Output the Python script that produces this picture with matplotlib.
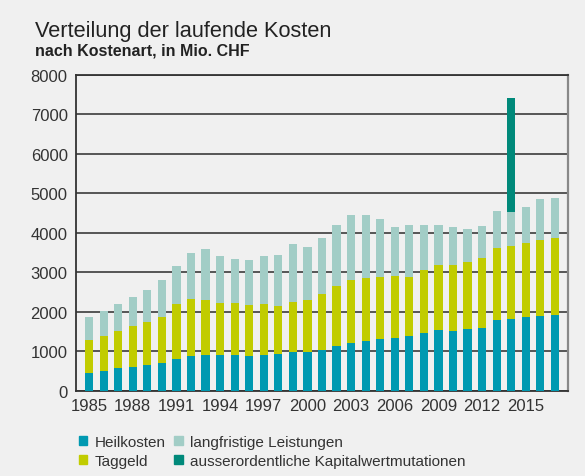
import numpy as np
from matplotlib import pyplot as plt
from matplotlib.patches import Patch

years = list(range(1985, 2018))

# obere Kanten der gestapelten Balken (kumuliert), in Mio. CHF
heilkosten_top = [456, 515, 582, 616, 667, 717, 819, 886, 911, 911, 915, 884, 917, 943, 993,
                  993, 1035, 1136, 1212, 1263, 1313, 1338, 1392, 1471, 1546, 1521, 1571, 1597,
                  1798, 1824, 1874, 1899, 1924]
taggeld_top = [1291, 1392, 1527, 1646, 1747, 1882, 2203, 2338, 2304, 2236, 2233, 2180, 2197, 2146,
               2247, 2298, 2449, 2652, 2803, 2854, 2879, 2904, 2880, 3059, 3193, 3193, 3261,
               3361, 3613, 3664, 3739, 3815, 3866]
langfristig_top = [1873, 2025, 2211, 2380, 2557, 2807, 3160, 3487, 3588, 3412, 3338, 3313, 3409,
                   3434, 3712, 3636, 3864, 4192, 4444, 4444, 4343, 4141, 4192, 4193, 4193, 4143,
                   4092, 4168, 4546, 4521, 4647, 4849, 4874]
kapital_top = [0] * 29 + [7395, 0, 0, 0]

heilkosten = np.array(heilkosten_top)
taggeld = np.array(taggeld_top) - heilkosten
langfristig = np.array(langfristig_top) - np.array(taggeld_top)
kapital = np.where(np.array(kapital_top) > 0, np.array(kapital_top) - np.array(langfristig_top), 0)

c_heil = '#0099b1'
c_tag = '#c1cc00'
c_lang = '#a2cdc6'
c_kap = '#00897a'
bg = '#f0f0f0'

plt.rcParams['font.family'] = ['Liberation Sans', 'DejaVu Sans']

fig = plt.figure(figsize=(5.85, 4.77), dpi=100, facecolor=bg)
ax = fig.add_axes([76 / 585, 85 / 477, 492 / 585, 316.5 / 477])
ax.set_facecolor(bg)

w = 0.56
ax.bar(years, heilkosten, w, color=c_heil, zorder=3)
ax.bar(years, taggeld, w, bottom=heilkosten, color=c_tag, zorder=3)
ax.bar(years, langfristig, w, bottom=heilkosten + taggeld, color=c_lang, zorder=3)
ax.bar(years, kapital, w, bottom=np.array(langfristig_top), color=c_kap, zorder=3)

ax.set_xlim(1984.1, 2017.9)
ax.set_ylim(0, 8000)
ax.set_yticks(range(0, 8001, 1000))
ax.set_xticks(range(1985, 2017, 3))
ax.yaxis.grid(True, color='#555555', linewidth=1.4)
ax.set_axisbelow(True)
ax.tick_params(length=0, labelsize=12, colors='#333333')
ax.tick_params(axis='x', pad=5)
ax.tick_params(axis='y', pad=6)

for s in ['left', 'bottom', 'top']:
    ax.spines[s].set_color('#333333')
    ax.spines[s].set_linewidth(1.3)
ax.spines['right'].set_color('#888888')
ax.spines['right'].set_linewidth(1.6)

fig.text(35 / 585, 1 - 37 / 477, 'Verteilung der laufende Kosten', fontsize=15.7,
         color='#222222', ha='left', va='baseline')
fig.text(35 / 585, 1 - 56 / 477, 'nach Kostenart, in Mio. CHF', fontsize=11.5,
         fontweight='bold', color='#222222', ha='left', va='baseline')

handles = [Patch(color=c_heil), Patch(color=c_tag), Patch(color=c_lang), Patch(color=c_kap)]
labels = ['Heilkosten', 'Taggeld', 'langfristige Leistungen',
          'ausserordentliche Kapitalwertmutationen']
fig.legend(handles, labels, ncol=2, loc='upper left', bbox_to_anchor=(79 / 585, 1 - 436 / 477),
           frameon=False, fontsize=11, handlelength=0.55, handleheight=0.55,
           handletextpad=0.45, columnspacing=0.6, labelspacing=0.3,
           labelcolor='#333333', borderaxespad=0, borderpad=0)

fig.savefig('out.png', dpi=100, facecolor=bg)
